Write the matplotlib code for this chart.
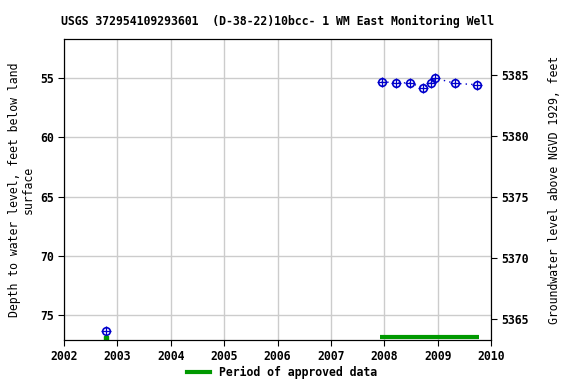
import matplotlib
matplotlib.use("Agg")
import matplotlib.pyplot as plt
import matplotlib.dates as mdates
from datetime import datetime

# measurement dates and depth to water (ft below land surface)
early_dates = ["2002-10-15"]
early_depth = [76.3]
dates = ["2007-12-15", "2008-03-20", "2008-06-25", "2008-09-20",
         "2008-11-15", "2008-12-15", "2009-05-01", "2009-09-25"]
depth = [55.3, 55.4, 55.4, 55.8, 55.4, 55.0, 55.45, 55.55]

approved_single = ["2002-10-15"]
approved_periods = [("2007-12-01", "2009-10-08")]
year_ticks = list(range(2002, 2011))

to_dt = lambda s: datetime.strptime(s, "%Y-%m-%d")

plt.rcParams["font.family"] = "DejaVu Sans Mono"
plt.rcParams["font.weight"] = "bold"
plt.rcParams["font.size"] = 8.3

fig = plt.figure(figsize=(5.76, 3.84), dpi=100)
ax = fig.add_axes([64 / 576, 1 - 340 / 384, 427 / 576, 301 / 384])

ax.set_xlim(datetime(2002, 1, 1), datetime(2010, 1, 1))
ax.set_ylim(77.1, 51.7)
ax.set_xticks([datetime(y, 1, 1) for y in year_ticks])
ax.xaxis.set_major_formatter(mdates.DateFormatter("%Y"))
ax.set_yticks([55, 60, 65, 70, 75])
ax.grid(True, color="#cccccc", linewidth=1)
ax.set_axisbelow(True)

blue = "#0000cc"
xs = [to_dt(d) for d in dates]
ax.plot(xs, depth, linestyle=(0, (1, 3)), color=blue, linewidth=1)
for xd, yd in [(xs, depth), ([to_dt(d) for d in early_dates], early_depth)]:
    ax.plot(xd, yd, "o", markerfacecolor="none", markeredgecolor=blue,
            markersize=5.5, markeredgewidth=1.2, linestyle="none")
    ax.plot(xd, yd, "+", color=blue, markersize=7.5, markeredgewidth=0.9,
            linestyle="none")

green = "#009900"
for s, e in approved_periods:
    ax.plot([to_dt(s), to_dt(e)], [76.85, 76.85], color=green, linewidth=3,
            solid_capstyle="butt")
ax.plot([to_dt(d) for d in approved_single], [76.95] * len(approved_single),
        "s", color=green, markersize=3.5, linestyle="none")

ax.set_ylabel("Depth to water level, feet below land\nsurface",
              linespacing=1.0, labelpad=4)
ax.set_title("USGS 372954109293601  (D-38-22)10bcc- 1 WM East Monitoring Well",
             fontsize=8.3, fontweight="bold", pad=10)

ax2 = ax.twinx()
ax2.set_ylim(5363.28, 5387.95)
ax2.set_yticks([5365, 5370, 5375, 5380, 5385])
ax2.set_ylabel("Groundwater level above NGVD 1929, feet", labelpad=14)

for a in (ax, ax2):
    a.tick_params(direction="out", length=4)

handle = plt.Line2D([], [], color=green, linewidth=3)
fig.legend([handle], ["Period of approved data"], loc="center",
           bbox_to_anchor=(0.49, 1 - 372 / 384), frameon=False,
           handlelength=2)

fig.savefig("out.png", dpi=100)
